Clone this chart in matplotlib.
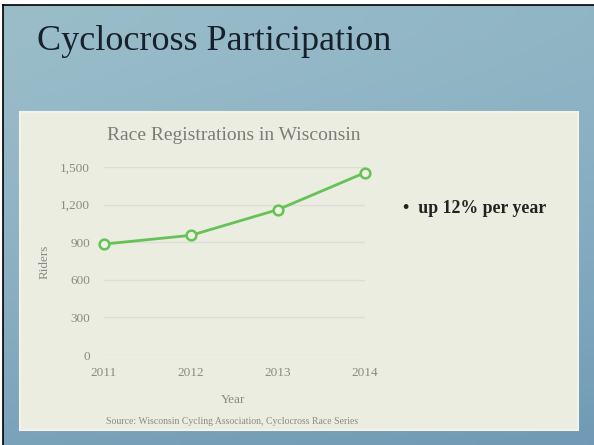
import numpy as np
import matplotlib
matplotlib.use("Agg")
import matplotlib.pyplot as plt
from matplotlib.patches import Rectangle
from matplotlib.ticker import FuncFormatter

years = [2011, 2012, 2013, 2014]
riders = [885, 955, 1160, 1455]
y_ticks = [0, 300, 600, 900, 1200, 1500]

W, H = 594, 445
fig = plt.figure(figsize=(W / 100, H / 100), dpi=100)
fig.patch.set_facecolor("white")

def fx(x):
    return x / W

def fy(y):
    return 1 - y / H

# background layer in pixel coordinates
bg = fig.add_axes([0, 0, 1, 1], zorder=-5)
bg.set_axis_off()
gy, gx = np.mgrid[0:1:100j, 0:1:100j]
top = np.array([154, 189, 201]) / 255
bot = np.array([122, 162, 185]) / 255
right = np.array([-10, -8, -4]) / 255
img = top[None, None, :] * (1 - gy[..., None] ** 1.5) + bot[None, None, :] * gy[..., None] ** 1.5 + right[None, None, :] * gx[..., None]
bg.imshow(np.clip(img, 0, 1), aspect="auto", extent=[3, W, H, 5], origin="upper", zorder=0)
bg.plot([3, 3], [5, H], color="black", lw=1.2, zorder=2)
bg.plot([3, W], [5, 5], color="black", lw=1.2, zorder=2)
bg.add_patch(Rectangle((20, 112), 558, 318, facecolor="#ecede1",
                       edgecolor="#f3f3ea", lw=1.5, zorder=1))
bg.set_xlim(0, W)
bg.set_ylim(H, 0)

# slide title
fig.text(fx(37), fy(41), "Cyclocross Participation", fontsize=26,
         family="Liberation Serif", color="#16212b", va="center", ha="left")

# bullet
fig.text(fx(403), fy(209), "\u2022  up 12% per year", fontsize=12.8,
         family="Liberation Serif", color="#222222", va="center", ha="left",
         fontweight="bold")

# chart
ax = fig.add_axes([fx(104), fy(355), fx(365) - fx(104), fy(167) - fy(355)])
ax.set_facecolor("none")
ax.plot(years, riders, color="#66c256", lw=2.0, marker="o", markersize=7,
        markerfacecolor="#eef2e2", markeredgecolor="#66c256", markeredgewidth=1.8,
        clip_on=False, zorder=3)
ax.set_xlim(2011, 2014)
ax.set_ylim(0, 1500)
ax.set_yticks(y_ticks)
ax.set_xticks(years)
ax.yaxis.set_major_formatter(FuncFormatter(lambda v, p: f"{int(v):,}"))
ax.grid(axis="y", color="#dcddd3", lw=0.9)
ax.set_axisbelow(True)
for s in ax.spines.values():
    s.set_visible(False)
ax.tick_params(length=0, labelsize=9.5, labelcolor="#8a8a84")
ax.tick_params(axis="y", pad=10)
ax.tick_params(axis="x", pad=9)
for lab in ax.get_xticklabels() + ax.get_yticklabels():
    lab.set_family("Liberation Serif")

fig.text(fx(234), fy(135), "Race Registrations in Wisconsin", fontsize=14,
         family="Liberation Serif", color="#7c7c76", ha="center", va="center")
fig.text(fx(233), fy(400), "Year", fontsize=9.5, family="Liberation Serif",
         color="#8a8a84", ha="center", va="center")
fig.text(fx(45), fy(262), "Riders", fontsize=9.5, family="Liberation Serif",
         color="#8a8a84", ha="center", va="center", rotation=90)
fig.text(fx(232), fy(422), "Source: Wisconsin Cycling Association, Cyclocross Race Series",
         fontsize=7, family="Liberation Serif", color="#8a8a84",
         ha="center", va="center")

fig.savefig("out.png", dpi=100)
